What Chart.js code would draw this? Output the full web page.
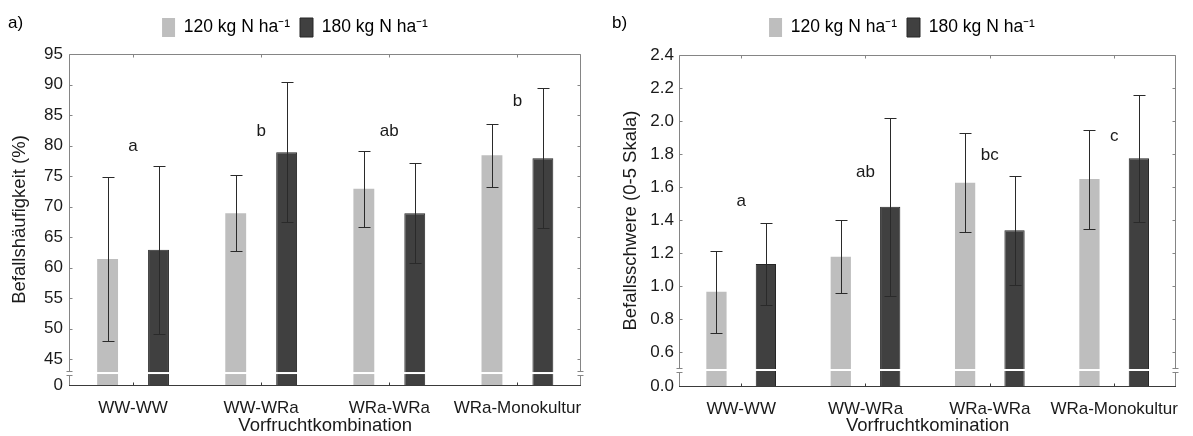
<!DOCTYPE html>
<html>
<head>
<meta charset="utf-8">
<script src="https://cdn.jsdelivr.net/npm/chart.js@4/dist/chart.umd.min.js"></script>
<style>
html,body{margin:0;padding:0;background:#fff;overflow:hidden;}
#wrapA{position:absolute;left:0;top:0;width:596px;height:436px;}
#wrapB{position:absolute;left:596px;top:0;width:597px;height:436px;}
</style>
</head>
<body>
<div id="wrapA"><canvas id="chartA" width="596" height="436"></canvas></div>
<div id="wrapB"><canvas id="chartB" width="597" height="436"></canvas></div>
<script>
// ---------- data ----------
const categories = ['WW-WW', 'WW-WRa', 'WRa-WRa', 'WRa-Monokultur'];
const seriesNames = ['120 kg N ha\u207B\u00B9', '180 kg N ha\u207B\u00B9'];

// panel a) Befallshäufigkeit (%)
const haeufig120 = [61.4, 68.9, 72.9, 78.4];
const haeufig120Err = [13.5, 6.2, 6.2, 5.2];
const haeufig180 = [62.9, 78.9, 68.9, 77.9];
const haeufig180Err = [13.8, 11.5, 8.2, 11.5];
const haeufigLetters = ['a', 'b', 'ab', 'b'];
const haeufigLetterY = [79.9, 82.4, 82.4, 87.3];
const haeufigTickValues = [45, 50, 55, 60, 65, 70, 75, 80, 85, 90, 95];
const haeufigTickLabels = ['0', '45', '50', '55', '60', '65', '70', '75', '80', '85', '90', '95'];
const haeufigAxisZero = 40.74;   // axis value where the broken axis shows "0"
const haeufigBreak = 42.7;
const haeufigMax = 95;

// panel b) Befallsschwere (0-5 Skala)
const schwere120 = [0.965, 1.178, 1.626, 1.648];
const schwere120Err = [0.25, 0.22, 0.30, 0.30];
const schwere180 = [1.133, 1.48, 1.338, 1.774];
const schwere180Err = [0.25, 0.54, 0.33, 0.385];
const schwereLetters = ['a', 'ab', 'bc', 'c'];
const schwereLetterY = [1.515, 1.691, 1.794, 1.909];
const schwereTickValues = [0.6, 0.8, 1.0, 1.2, 1.4, 1.6, 1.8, 2.0, 2.2, 2.4];
const schwereTickLabels = ['0.0', '0.6', '0.8', '1.0', '1.2', '1.4', '1.6', '1.8', '2.0', '2.2', '2.4'];
const schwereAxisZero = 0.394;
const schwereBreak = 0.491;
const schwereMax = 2.4;

// ---------- styling ----------
const FONT = '"Liberation Sans", Arial, sans-serif';
const LIGHT = '#bebebe';
const DARK = '#404040';

const decorPlugin = {
  id: 'decor',
  afterDatasetsDraw(chart) {
    const o = chart.options.plugins.decor;
    const ctx = chart.ctx;
    const xs = chart.scales.x, ys = chart.scales.y;
    const {left, right, top, bottom} = chart.chartArea;
    ctx.save();
    // white break gap across bars
    const yb = ys.getPixelForValue(o.breakVal);
    ctx.fillStyle = '#ffffff';
    ctx.fillRect(left + 1, yb - 1, right - left - 2, 2);
    // error bars
    ctx.strokeStyle = '#2a2a2a';
    ctx.lineWidth = 1;
    o.vals.forEach((vals, d) => {
      const meta = chart.getDatasetMeta(d);
      meta.data.forEach((bar, i) => {
        const x = Math.round(bar.x) + 0.5;
        const yT = Math.round(ys.getPixelForValue(vals[i] + o.errs[d][i])) + 0.5;
        const yB = Math.round(ys.getPixelForValue(vals[i] - o.errs[d][i])) + 0.5;
        ctx.beginPath();
        ctx.moveTo(x, yT); ctx.lineTo(x, yB);
        ctx.moveTo(x - 6, yT); ctx.lineTo(x + 6, yT);
        ctx.moveTo(x - 6, yB); ctx.lineTo(x + 6, yB);
        ctx.stroke();
      });
    });
    // frame
    const L = Math.round(left) + 0.5, R = Math.round(right) - 0.5;
    const T = Math.round(top) + 0.5, B = Math.round(bottom) + 0.5;
    const ybr = Math.round(yb) + 0.5;
    ctx.strokeStyle = '#858585';
    ctx.beginPath();
    ctx.moveTo(L, T); ctx.lineTo(R, T);
    ctx.moveTo(L, T); ctx.lineTo(L, ybr - 2);
    ctx.moveTo(L, ybr + 2); ctx.lineTo(L, B);
    ctx.moveTo(R, T); ctx.lineTo(R, ybr - 2);
    ctx.moveTo(R, ybr + 2); ctx.lineTo(R, B);
    // break marks
    [L, R].forEach(xx => {
      ctx.moveTo(xx - 3, ybr - 2); ctx.lineTo(xx + 3, ybr - 2);
      ctx.moveTo(xx - 3, ybr + 2); ctx.lineTo(xx + 3, ybr + 2);
    });
    // y ticks (inward)
    o.tickValues.forEach(v => {
      const py = Math.round(ys.getPixelForValue(v)) + 0.5;
      ctx.moveTo(L, py); ctx.lineTo(L + 3, py);
      ctx.moveTo(R - 3, py); ctx.lineTo(R, py);
    });
    // x ticks top (inward)
    categories.forEach((c, i) => {
      const px = Math.round(xs.getPixelForValue(i)) + 0.5;
      ctx.moveTo(px, T); ctx.lineTo(px, T + 3);
    });
    ctx.stroke();
    ctx.strokeStyle = '#3a3a3a';
    ctx.beginPath();
    ctx.moveTo(L - 0.5, B); ctx.lineTo(R + 0.5, B);
    categories.forEach((c, i) => {
      const px = Math.round(xs.getPixelForValue(i)) + 0.5;
      ctx.moveTo(px, B); ctx.lineTo(px, B - 3);
    });
    ctx.stroke();
    // significance letters
    ctx.fillStyle = '#1a1a1a';
    ctx.font = '17px ' + FONT;
    ctx.textAlign = 'center';
    ctx.textBaseline = 'middle';
    o.letters.forEach((t, i) => {
      ctx.fillText(t, xs.getPixelForValue(i), ys.getPixelForValue(o.letterY[i]));
    });
    // panel label
    ctx.textAlign = 'left';
    ctx.fillStyle = '#000';
    ctx.fillText(o.panel, o.panelX, 23);
    ctx.restore();
  }
};

function makeChart(id, cfg) {
  const yTicksAll = [cfg.zero, ...cfg.tickValues];
  return new Chart(document.getElementById(id), {
    type: 'bar',
    data: {
      labels: categories,
      datasets: [
        {label: seriesNames[0], data: cfg.vals[0], backgroundColor: LIGHT, borderWidth: 0,
         categoryPercentage: 0.795, barPercentage: 0.41},
        {label: seriesNames[1], data: cfg.vals[1], backgroundColor: DARK, borderColor: '#262626', borderWidth: 1,
         categoryPercentage: 0.795, barPercentage: 0.41}
      ]
    },
    options: {
      responsive: false,
      devicePixelRatio: 1,
      animation: false,
      events: [],
      layout: {padding: cfg.padding},
      scales: {
        x: {
          type: 'category',
          grid: {display: false, drawTicks: false},
          border: {display: false},
          ticks: {color: '#1a1a1a', font: {family: FONT, size: 17}, padding: 13, maxRotation: 0, autoSkip: false},
          title: {display: true, text: cfg.xTitle, color: '#1a1a1a', font: {family: FONT, size: 18.5}, padding: {top: 0, bottom: -1.5}},
          afterFit(s) { s.height = cfg.xHeight; }
        },
        xTop: {
          type: 'category',
          position: 'top',
          labels: categories,
          grid: {display: false, drawTicks: false},
          border: {display: false},
          ticks: {display: false},
          afterFit(s) { s.height = cfg.topHeight; }
        },
        y: {
          min: cfg.zero,
          max: cfg.max,
          grid: {display: false, drawTicks: false},
          border: {display: false},
          afterBuildTicks(s) { s.ticks = yTicksAll.map(v => ({value: v})); },
          ticks: {
            color: '#1a1a1a', font: {family: FONT, size: 17}, padding: cfg.tickPad, autoSkip: false,
            callback: (v, i) => cfg.tickLabels[i]
          },
          title: {display: true, text: cfg.yTitle, color: '#1a1a1a', font: {family: FONT, size: 18.5}, padding: {top: cfg.titlePad, bottom: 0}},
          afterFit(s) { s.width = cfg.yWidth; }
        }
      },
      plugins: {
        legend: {
          position: 'top',
          labels: {boxWidth: 13, boxHeight: 19, padding: 10, color: '#000', font: {family: FONT, size: 17.5}}
        },
        tooltip: {enabled: false},
        decor: {
          vals: cfg.vals, errs: cfg.errs, letters: cfg.letters, letterY: cfg.letterY,
          breakVal: cfg.breakVal, tickValues: cfg.tickValues, panel: cfg.panel, panelX: cfg.panelX
        }
      }
    },
    plugins: [decorPlugin]
  });
}

makeChart('chartA', {
  vals: [haeufig120, haeufig180], errs: [haeufig120Err, haeufig180Err],
  letters: haeufigLetters, letterY: haeufigLetterY,
  tickValues: haeufigTickValues, tickLabels: haeufigTickLabels,
  zero: haeufigAxisZero, max: haeufigMax, breakVal: haeufigBreak,
  xTitle: 'Vorfruchtkombination', yTitle: 'Befallshäufigkeit (%)',
  padding: {top: 8, left: 8, right: 14, bottom: 0},
  yWidth: 61, xHeight: 51, topHeight: 7, tickPad: 6, titlePad: 1,
  panel: 'a)', panelX: 8
});

makeChart('chartB', {
  vals: [schwere120, schwere180], errs: [schwere120Err, schwere180Err],
  letters: schwereLetters, letterY: schwereLetterY,
  tickValues: schwereTickValues, tickLabels: schwereTickLabels,
  zero: schwereAxisZero, max: schwereMax, breakVal: schwereBreak,
  xTitle: 'Vorfruchtkomination', yTitle: 'Befallsschwere (0-5 Skala)',
  padding: {top: 8, left: 21, right: 6, bottom: 0},
  yWidth: 62, xHeight: 50, topHeight: 8, tickPad: 5, titlePad: 3,
  panel: 'b)', panelX: 16
});
</script>
</body>
</html>
